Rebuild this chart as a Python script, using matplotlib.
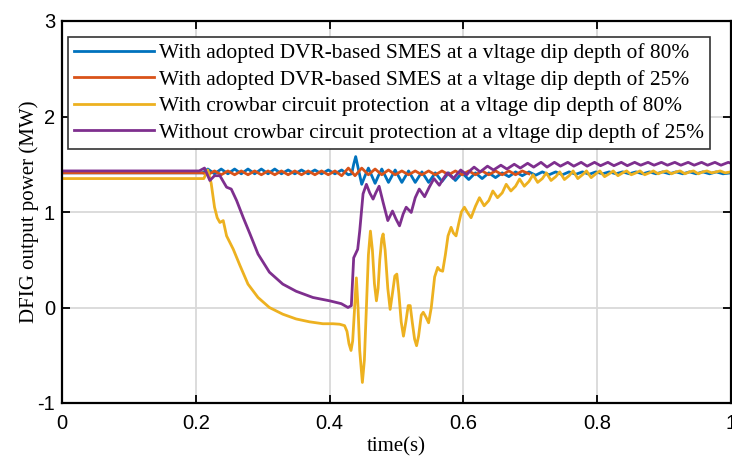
import numpy as np
import matplotlib.pyplot as plt

plt.rcParams['axes.unicode_minus'] = False

# 数据
t_blue = [0, 0.210, 0.218, 0.228, 0.238, 0.248, 0.258, 0.268, 0.278, 0.288, 0.298,
          0.308, 0.318, 0.328, 0.338, 0.348, 0.358, 0.368, 0.378, 0.388, 0.398,
          0.408, 0.418, 0.428, 0.433, 0.436, 0.439, 0.443, 0.448, 0.453, 0.458, 0.463, 0.468,
          0.473, 0.478, 0.483, 0.488,
          0.498, 0.508, 0.518, 0.528, 0.538, 0.548, 0.558, 0.568, 0.578, 0.588,
          0.598, 0.608, 0.618, 0.628, 0.638, 0.648, 0.658, 0.668, 0.678, 0.688,
          0.698, 0.708, 0.718, 0.728, 0.738, 0.748, 0.758, 0.768, 0.778, 0.788,
          0.798, 0.808, 0.818, 0.828, 0.838, 0.848, 0.858, 0.868, 0.878, 0.888,
          0.898, 0.908, 0.918, 0.928, 0.938, 0.948, 0.958, 0.968, 0.978, 0.988, 1.0]
p_blue = [1.41, 1.41, 1.45, 1.40, 1.45, 1.40, 1.45, 1.40, 1.45, 1.40, 1.45,
          1.40, 1.45, 1.40, 1.44, 1.40, 1.44, 1.40, 1.44, 1.40, 1.44,
          1.40, 1.44, 1.39, 1.40, 1.50, 1.58, 1.45, 1.29, 1.38, 1.46, 1.38, 1.30,
          1.38, 1.45, 1.38, 1.31,
          1.44, 1.31, 1.43, 1.31, 1.42, 1.31, 1.41, 1.32, 1.41, 1.33,
          1.41, 1.34, 1.41, 1.35, 1.41, 1.36, 1.41, 1.37, 1.42, 1.38,
          1.42, 1.385, 1.42, 1.39, 1.42, 1.39, 1.42, 1.395, 1.42, 1.395,
          1.42, 1.40, 1.42, 1.40, 1.42, 1.40, 1.42, 1.40, 1.42, 1.40,
          1.42, 1.40, 1.42, 1.40, 1.42, 1.40, 1.42, 1.40, 1.42, 1.40, 1.41]

t_orange = [0, 0.210, 0.218, 0.228, 0.238, 0.248, 0.258, 0.268, 0.278, 0.288, 0.298,
            0.308, 0.318, 0.328, 0.338, 0.348, 0.358, 0.368, 0.378, 0.388, 0.398,
            0.408, 0.418, 0.428, 0.438, 0.448, 0.458, 0.468, 0.478, 0.488, 0.498,
            0.508, 0.518, 0.528, 0.538, 0.548, 0.558, 0.568, 0.578, 0.588, 0.598,
            0.608, 0.618, 0.628, 0.638, 0.648, 0.658, 0.668, 0.678, 0.688, 0.698]
p_orange = [1.41, 1.41, 1.39, 1.43, 1.39, 1.43, 1.39, 1.43, 1.39, 1.43, 1.39,
            1.43, 1.39, 1.43, 1.39, 1.43, 1.39, 1.43, 1.39, 1.43, 1.39,
            1.43, 1.38, 1.46, 1.38, 1.46, 1.39, 1.45, 1.39, 1.44, 1.39,
            1.43, 1.39, 1.43, 1.39, 1.43, 1.39, 1.43, 1.39, 1.43, 1.39,
            1.43, 1.39, 1.43, 1.39, 1.43, 1.39, 1.43, 1.39, 1.43, 1.40]

t_yellow = [0, 0.212, 0.218, 0.223, 0.228, 0.232, 0.236, 0.241, 0.246, 0.256, 0.266,
            0.278, 0.293, 0.310, 0.330, 0.350, 0.370, 0.390, 0.405, 0.415, 0.4224,
            0.426, 0.429, 0.432, 0.4345, 0.437, 0.440, 0.4425, 0.445, 0.449, 0.452,
            0.455, 0.458, 0.461, 0.464, 0.467, 0.470, 0.4725, 0.475, 0.478, 0.480,
            0.483, 0.487, 0.4905, 0.494, 0.4975, 0.5005, 0.5035, 0.507, 0.5104, 0.514,
            0.5175, 0.5205, 0.5235, 0.527, 0.530, 0.533, 0.537, 0.540, 0.544, 0.548,
            0.552, 0.557, 0.5616, 0.565, 0.569, 0.573, 0.577, 0.5816, 0.585, 0.589,
            0.593, 0.597, 0.6015, 0.6065, 0.6115, 0.618, 0.624, 0.631, 0.638, 0.644,
            0.651, 0.658, 0.664, 0.671, 0.678, 0.684, 0.691, 0.698, 0.704, 0.711,
            0.718, 0.724, 0.731, 0.738, 0.744, 0.751, 0.758, 0.764, 0.771, 0.778,
            0.784, 0.791, 0.798, 0.804, 0.811, 0.818, 0.824, 0.831, 0.838, 0.844,
            0.851, 0.858, 0.864, 0.871, 0.878, 0.884, 0.891, 0.898, 0.904, 0.911,
            0.918, 0.924, 0.931, 0.938, 0.944, 0.951, 0.958, 0.964, 0.971, 0.978,
            0.984, 0.991, 1.0]
p_yellow = [1.35, 1.35, 1.44, 1.30, 1.05, 0.94, 0.89, 0.91, 0.75, 0.61, 0.44,
            0.245, 0.105, 0.0, -0.07, -0.12, -0.15, -0.17, -0.17, -0.175, -0.19,
            -0.25, -0.38, -0.45, -0.35, -0.05, 0.31, 0.0, -0.45, -0.785, -0.55,
            0.0, 0.55, 0.80, 0.60, 0.25, 0.07, 0.20, 0.50, 0.72, 0.77,
            0.60, 0.20, -0.02, 0.15, 0.33, 0.35, 0.15, -0.15, -0.30, -0.15,
            0.02, 0.02, -0.15, -0.33, -0.40, -0.30, -0.08, -0.05, -0.10, -0.16,
            0.0, 0.32, 0.42, 0.39, 0.38, 0.55, 0.75, 0.84, 0.78, 0.75,
            0.88, 1.00, 1.05, 0.99, 0.94, 1.06, 1.15, 1.065, 1.12, 1.22,
            1.15, 1.20, 1.29, 1.22, 1.27, 1.345, 1.27, 1.32, 1.39, 1.31,
            1.35, 1.41, 1.33, 1.37, 1.42, 1.34, 1.38, 1.43, 1.35, 1.39,
            1.43, 1.36, 1.40, 1.43, 1.37, 1.40, 1.43, 1.38, 1.41, 1.43,
            1.39, 1.41, 1.43, 1.39, 1.41, 1.43, 1.40, 1.42, 1.43, 1.40,
            1.42, 1.43, 1.40, 1.42, 1.43, 1.40, 1.42, 1.43, 1.41, 1.42,
            1.43, 1.41, 1.42]

t_purple = [0, 0.205, 0.213, 0.221, 0.228, 0.236, 0.246, 0.253, 0.261, 0.271, 0.281,
            0.293, 0.310, 0.330, 0.350, 0.375, 0.400, 0.4175, 0.4275, 0.4325, 0.436,
            0.442, 0.445, 0.450, 0.455, 0.460, 0.465, 0.469, 0.474, 0.480, 0.487,
            0.494, 0.499, 0.5045, 0.510, 0.5145, 0.522, 0.528, 0.534, 0.542, 0.549,
            0.556, 0.564, 0.570, 0.576, 0.585, 0.591, 0.596, 0.605, 0.611, 0.616,
            0.625, 0.636, 0.645, 0.656, 0.665, 0.676, 0.685, 0.696, 0.705, 0.716,
            0.725, 0.736, 0.745, 0.756, 0.765, 0.776, 0.785, 0.796, 0.805, 0.816,
            0.825, 0.836, 0.845, 0.856, 0.865, 0.876, 0.885, 0.896, 0.905, 0.916,
            0.925, 0.936, 0.945, 0.956, 0.965, 0.976, 0.985, 0.996, 1.0]
p_purple = [1.43, 1.43, 1.46, 1.33, 1.38, 1.38, 1.26, 1.24, 1.12, 0.94, 0.77,
            0.56, 0.37, 0.245, 0.17, 0.105, 0.07, 0.04, 0.0, 0.02, 0.52,
            0.61, 0.80, 1.19, 1.29, 1.20, 1.135, 1.20, 1.27, 1.10, 0.91,
            1.01, 0.93, 0.855, 0.98, 1.05, 0.995, 1.15, 1.24, 1.16, 1.26,
            1.35, 1.28, 1.35, 1.41, 1.35, 1.40, 1.44, 1.39, 1.44, 1.47,
            1.42, 1.48, 1.44, 1.49, 1.45, 1.50, 1.46, 1.51, 1.47, 1.52,
            1.47, 1.52, 1.48, 1.52, 1.48, 1.52, 1.48, 1.52, 1.485, 1.52,
            1.485, 1.52, 1.485, 1.52, 1.49, 1.52, 1.49, 1.52, 1.49, 1.52,
            1.49, 1.52, 1.49, 1.52, 1.49, 1.52, 1.49, 1.52, 1.51]

labels = ['With adopted DVR-based SMES at a vltage dip depth of 80%',
          'With adopted DVR-based SMES at a vltage dip depth of 25%',
          'With crowbar circuit protection  at a vltage dip depth of 80%',
          'Without crowbar circuit protection at a vltage dip depth of 25%']
colors = ['#0072BD', '#D95319', '#EDB120', '#7E2F8E']

fig = plt.figure(figsize=(7.32, 4.59), dpi=100)
ax = fig.add_axes([62 / 732, 56 / 459, 669 / 732, 382 / 459])

series = [(t_blue, p_blue), (t_orange, p_orange), (t_yellow, p_yellow), (t_purple, p_purple)]
for (t, p), c, lab in zip(series, colors, labels):
    ax.plot(t, p, color=c, lw=2, label=lab)

ax.set_xlim(0, 1)
ax.set_ylim(-1, 3)
ax.set_xticks([0, 0.2, 0.4, 0.6, 0.8, 1])
ax.set_xticklabels(['0', '0.2', '0.4', '0.6', '0.8', '1'])
ax.set_yticks([-1, 0, 1, 2, 3])
ax.grid(True, color='#d9d9d9', lw=1.3)
ax.set_axisbelow(True)
ax.tick_params(direction='in', length=6, width=1.3, top=True, right=True,
               labelsize=14.5)
ax.tick_params(axis='x', pad=8)
ax.tick_params(axis='y', pad=5)
for lab in ax.get_xticklabels() + ax.get_yticklabels():
    lab.set_family('Liberation Sans')
for s in ax.spines.values():
    s.set_linewidth(1.6)

ax.set_xlabel('time(s)', family='Liberation Serif', fontsize=15, labelpad=3)
ax.set_ylabel('DFIG output power (MW)', family='Liberation Serif', fontsize=15, labelpad=-1)

leg = ax.legend(loc='upper left', bbox_to_anchor=(0.009, 0.958), borderaxespad=0,
                prop={'family': 'Liberation Serif', 'size': 15.4},
                handlelength=3.7, handletextpad=0.25, labelspacing=0.3, borderpad=0.3,
                fancybox=False, framealpha=1, edgecolor='#333333')
leg.get_frame().set_linewidth(1.2)
for h in leg.get_lines():
    h.set_linewidth(2)

fig.savefig('out.png', dpi=100)
